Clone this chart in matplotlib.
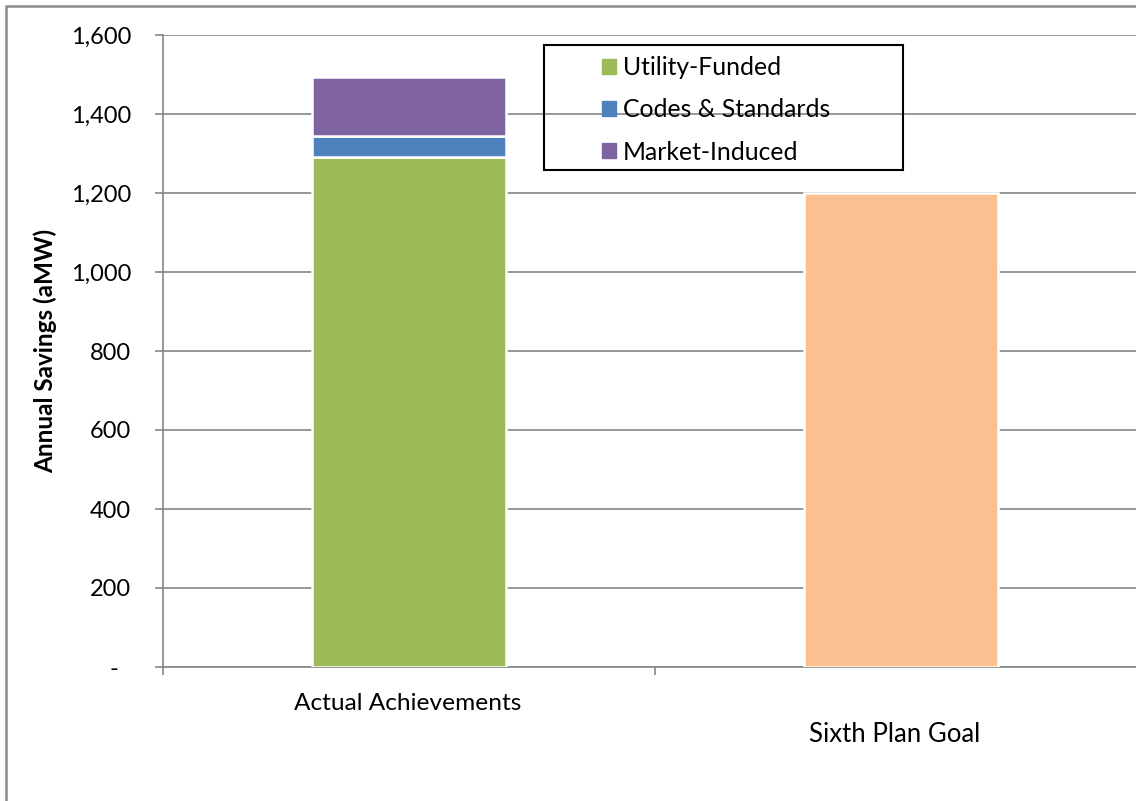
import matplotlib
matplotlib.use("Agg")
import matplotlib.pyplot as plt
import matplotlib.patheffects as pe
from matplotlib.patches import Rectangle, Patch
from matplotlib.ticker import FuncFormatter

plt.rcParams['font.family'] = ['Lato', 'DejaVu Sans']

# data (aMW)
categories = ["Actual Achievements", "Sixth Plan Goal"]
utility_funded = 1292
codes_standards = 53
market_induced = 148
plan_goal = 1200
y_ticks = [0, 200, 400, 600, 800, 1000, 1200, 1400, 1600]

GREEN = "#9BBB59"
BLUE = "#4F81BD"
PURPLE = "#8064A2"
ORANGE = "#FAC090"
GRID = "#868686"

W, H = 1136, 801
fig = plt.figure(figsize=(W / 100, H / 100), dpi=100)
ax = fig.add_axes([163 / W, 1 - 667 / H, (1147 - 163) / W, (667 - 35) / H])

shadow = [pe.SimplePatchShadow(offset=(1, -1), shadow_rgbFace="#7f7f7f", alpha=0.35), pe.Normal()]
bw = 0.394
kw = dict(width=bw, edgecolor="white", linewidth=1.8, zorder=3)

b1 = ax.bar(0, utility_funded, color=GREEN, **kw)
b2 = ax.bar(0, codes_standards, bottom=utility_funded, color=BLUE, **kw)
b3 = ax.bar(0, market_induced, bottom=utility_funded + codes_standards, color=PURPLE, **kw)
b4 = ax.bar(1, plan_goal, color=ORANGE, **kw)
for bars in (b1, b2, b3, b4):
    for p in bars:
        p.set_path_effects(shadow)

ax.set_xlim(-0.5, 1.5)
ax.set_ylim(0, 1600)
ax.set_yticks(y_ticks)
ax.yaxis.set_major_formatter(FuncFormatter(lambda v, _: "-  " if v == 0 else f"{int(v):,}"))
ax.grid(axis="y", color=GRID, linewidth=1.2, zorder=0)
ax.set_axisbelow(True)

for s in ("top", "right"):
    ax.spines[s].set_visible(False)
for s in ("left", "bottom"):
    ax.spines[s].set_color(GRID)
    ax.spines[s].set_linewidth(1.2)

ax.tick_params(axis="y", direction="out", length=6, width=1.2, color=GRID,
               labelsize=17, pad=17, labelcolor="black")
ax.set_xticks([-0.5, 0.5, 1.5])
ax.set_xticklabels([])
ax.tick_params(axis="x", direction="out", length=6, width=1.2, color=GRID)

# staggered category labels, as in the original
ax.annotate(categories[0], xy=(0, 0), xycoords=("data", "axes fraction"),
            xytext=(-1, -36), textcoords="offset pixels", ha="center", va="center", fontsize=17.6)
ax.annotate(categories[1], xy=(1, 0), xycoords=("data", "axes fraction"),
            xytext=(-6, -67), textcoords="offset pixels", ha="center", va="center", fontsize=18.5)

ax.set_ylabel("Annual Savings (aMW)", fontsize=17.5, fontweight="bold")
ax.yaxis.set_label_coords((57 - 163) / 984, 0.5)

# legend
handles = [Patch(color=GREEN), Patch(color=BLUE), Patch(color=PURPLE)]
labels = ["Utility-Funded", "Codes & Standards", "Market-Induced"]
leg = fig.legend(handles, labels, loc="upper left", bbox_to_anchor=(602 / W, 1 - 56 / H),
                 frameon=False, fontsize=17.8, handlelength=0.55, handleheight=0.55,
                 handletextpad=0.3, labelspacing=0.78, borderpad=0, borderaxespad=0)
fig.add_artist(Rectangle((544 / W, 1 - 170 / H), (903 - 544) / W, 125 / H,
                         transform=fig.transFigure, fill=False, edgecolor="black", linewidth=1.5))

# outer chart border (right and bottom fall outside the picture)
fig.add_artist(Rectangle((6 / W, -0.2), 1.5, 1.2 - 6 / H, transform=fig.transFigure,
                         fill=False, edgecolor="#8c8c8c", linewidth=1.8))

fig.savefig("out.png", dpi=100)
